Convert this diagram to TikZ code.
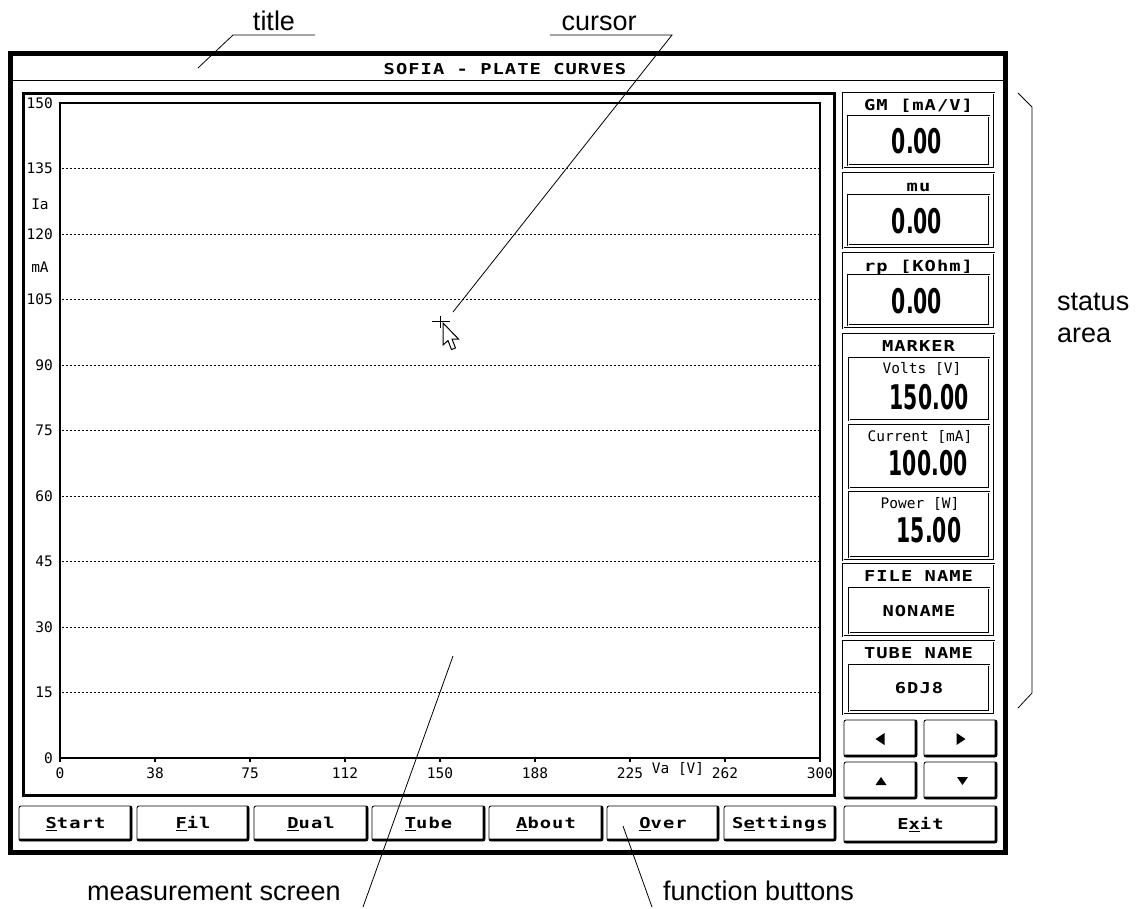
\documentclass[tikz,border=0pt]{standalone}
\usepackage{fontspec}
\setmainfont{Liberation Sans}
\newfontfamily\uib{DejaVu Sans Mono}[FakeStretch=1.25,LetterSpace=7]
\newfontfamily\uit{DejaVu Sans Mono}
\newfontfamily\lcd{DejaVu Sans}[FakeStretch=0.6]
\newcommand\uibox[6]{\node[#1, minimum width={#4-#2}, minimum height={#5-#3}] (#6) at ({(#2+#4)/2},{(#3+#5)/2}) {};}
\begin{document}
\begin{tikzpicture}[x=1pt,y=-1pt,
  ann/.style={font=\fontsize{27}{28}\selectfont, inner sep=0},
  leader/.style={line width=0.8pt},
  boldtxt/.style={font=\fontsize{15}{16}\selectfont\uib\bfseries, inner sep=0, text height=10.8pt, text depth=0pt},
  smalltxt/.style={font=\fontsize{14.5}{15}\selectfont\uit, inner sep=0, text height=10.5pt, text depth=0pt},
  lcdv/.style={font=\fontsize{34}{34}\selectfont\lcd\bfseries, inner sep=0, text height=25pt, text depth=0pt},
  panel/.style={draw, double, double distance=1pt, line width=0.7pt, inner sep=0},
  btn/.style={draw, line width=0.8pt, rounded corners=2pt, inner sep=0,
    path picture={\draw[line width=5pt] (path picture bounding box.south west) -- (path picture bounding box.south east) -- (path picture bounding box.north east);}},
  gridline/.style={line width=1pt, dash pattern=on 2pt off 2pt}
]
\useasboundingbox (0,0) rectangle (1147,908);
% main window
\draw[line width=5pt] (10.5,53) rectangle (1005.5,852.5);
\draw[line width=1pt] (13,80) -- (1003,80);
\node[boldtxt] (wtitle) at (505,69) {SOFIA - PLATE CURVES};
% plot frame
\draw[line width=3pt] (23.5,93.5) rectangle (834.5,795.5);
\draw[line width=1.3pt] (60,103) rectangle (820,758);
\foreach \v in {15,30,...,135} \draw[gridline] (62,{758-\v*4.366667}) -- (820,{758-\v*4.366667});
\foreach \v in {0,15,...,150} \node[smalltxt, anchor=east] at (53,{758-\v*4.366667}) {\v};
\foreach \l [count=\i from 0] in {0,38,75,112,150,188,225,262,300} {
  \draw[line width=1.3pt] ({60+\i*95},758) -- ({60+\i*95},762);
  \node[smalltxt] at ({60+\i*95},773) {\l};
}
\node[smalltxt] (va) at (678,768) {Va [V]};
\node[smalltxt] (ia) at (40,204) {Ia};
\node[smalltxt] (ma) at (40,267) {mA};
% cursor
\draw[line width=1pt] (432,321) -- (450,321) (440,315.5) -- (440,327.5);
\draw[fill=white, line width=1pt, line join=miter] (443,323) -- (443,345) -- (448,340.5) -- (451.5,349.5) -- (455.5,348) -- (452,339) -- (458.5,339) -- cycle;
% status panels
\uibox{panel}{843}{93}{994}{168}{gm}
\node[boldtxt] (gmt) at (918.5,105) {GM [mA/V]};
\uibox{panel}{848}{116}{989}{165}{gmb}
\node[lcdv] (gmv) at (917,141) {0.00};
\uibox{panel}{843}{173}{994}{248}{mu}
\node[boldtxt] (mut) at (918.5,186) {mu};
\uibox{panel}{848}{195}{989}{245}{mub}
\node[lcdv] (muv) at (917,221) {0.00};
\uibox{panel}{843}{253}{994}{328}{rp}
\node[boldtxt] (rpt) at (918.5,266) {rp [KOhm]};
\uibox{panel}{848}{275}{989}{325}{rpb}
\node[lcdv] (rpv) at (917,301) {0.00};
\uibox{panel}{843}{334}{994}{560}{mk}
\node[boldtxt] (mkt) at (918.5,346) {MARKER};
\uibox{panel}{849}{358}{989}{420}{vb}
\node[smalltxt] (vt) at (922,368) {Volts [V]};
\node[lcdv] (vv) at (929,397) {150.00};
\uibox{panel}{849}{425}{989}{488}{cb}
\node[smalltxt] (ct) at (920,436) {Current [mA]};
\node[lcdv] (cv) at (928,463) {100.00};
\uibox{panel}{849}{492}{989}{557}{pb}
\node[smalltxt] (pt) at (920,503) {Power [W]};
\node[lcdv] (pv) at (929,530) {15.00};
\uibox{panel}{843}{564}{994}{636}{fn}
\node[boldtxt] (fnt) at (918.5,576) {FILE NAME};
\uibox{panel}{849}{588}{989}{633}{fnb}
\node[boldtxt] (fnv) at (919,611) {NONAME};
\uibox{panel}{843}{641}{994}{714}{tn}
\node[boldtxt] (tnt) at (918.5,653) {TUBE NAME};
\uibox{panel}{849}{665}{989}{711}{tnb}
\node[boldtxt] (tnv) at (919,688) {6DJ8};
% arrow buttons
\uibox{btn}{844}{720}{917}{757}{bleft}
\uibox{btn}{924}{720}{997}{757}{bright}
\uibox{btn}{844}{762}{917}{799}{bup}
\uibox{btn}{924}{762}{997}{799}{bdown}
\fill (875.5,739) -- (884.5,733) -- (884.5,745) -- cycle;
\fill (965.5,739) -- (956.5,733) -- (956.5,745) -- cycle;
\fill (881,777) -- (875.5,785) -- (886.5,785) -- cycle;
\fill (962.5,785) -- (957,777) -- (968,777) -- cycle;
% function buttons
\node[btn, minimum width=113, minimum height=35] (bstart) at (75.5,823.5) {};
\node[btn, minimum width=112, minimum height=35] (bfil) at (193,823.5) {};
\node[btn, minimum width=114, minimum height=35] (bdual) at (311,823.5) {};
\node[btn, minimum width=113, minimum height=35] (btube) at (428.5,823.5) {};
\node[btn, minimum width=114, minimum height=35] (babout) at (546,823.5) {};
\node[btn, minimum width=112, minimum height=35] (bover) at (663,823.5) {};
\node[btn, minimum width=112, minimum height=35] (bset) at (780,823.5) {};
\node[btn, minimum width=153, minimum height=37] (bexit) at (920.5,824.5) {};
\node[boldtxt] at (bstart) {\underline{S}tart};
\node[boldtxt] at (bfil) {\underline{F}il};
\node[boldtxt] at (bdual) {\underline{D}ual};
\node[boldtxt] at (btube) {\underline{T}ube};
\node[boldtxt] at (babout) {\underline{A}bout};
\node[boldtxt] at (bover) {\underline{O}ver};
\node[boldtxt] at (bset) {S\underline{e}ttings};
\node[boldtxt] at (bexit) {E\underline{x}it};
% annotations
\node[ann, anchor=base] (ltitle) at (274,30) {title};
\coordinate (lt1) at (233,35); \coordinate (lt2) at (315,35); \coordinate (ltt) at (198,68);
\draw[leader] (lt2) -- (lt1) -- (ltt);
\node[ann, anchor=base] (lcursor) at (599,30) {cursor};
\coordinate (lc1) at (550,35); \coordinate (lc2) at (672,35); \coordinate (lct) at (453,312);
\draw[leader] (lc1) -- (lc2) -- (lct);
\node[ann, anchor=base west] (lstatus) at (1057,310) {status};
\node[ann, anchor=base west] (larea) at (1057,342) {area};
\coordinate (sb1) at (1018,93); \coordinate (sb2) at (1032,107); \coordinate (sb3) at (1032,693); \coordinate (sb4) at (1018,708);
\draw[leader] (sb1) -- (sb2) -- (sb3) -- (sb4);
\node[ann, anchor=base west] (lmeas) at (87,900) {measurement screen};
\coordinate (lm1) at (363,907); \coordinate (lmt) at (453,656);
\draw[leader] (lm1) -- (lmt);
\node[ann, anchor=base west] (lfunc) at (663,900) {function buttons};
\coordinate (lf1) at (652,907); \coordinate (lft) at (623,826);
\draw[leader] (lf1) -- (lft);
\end{tikzpicture}
\end{document}
